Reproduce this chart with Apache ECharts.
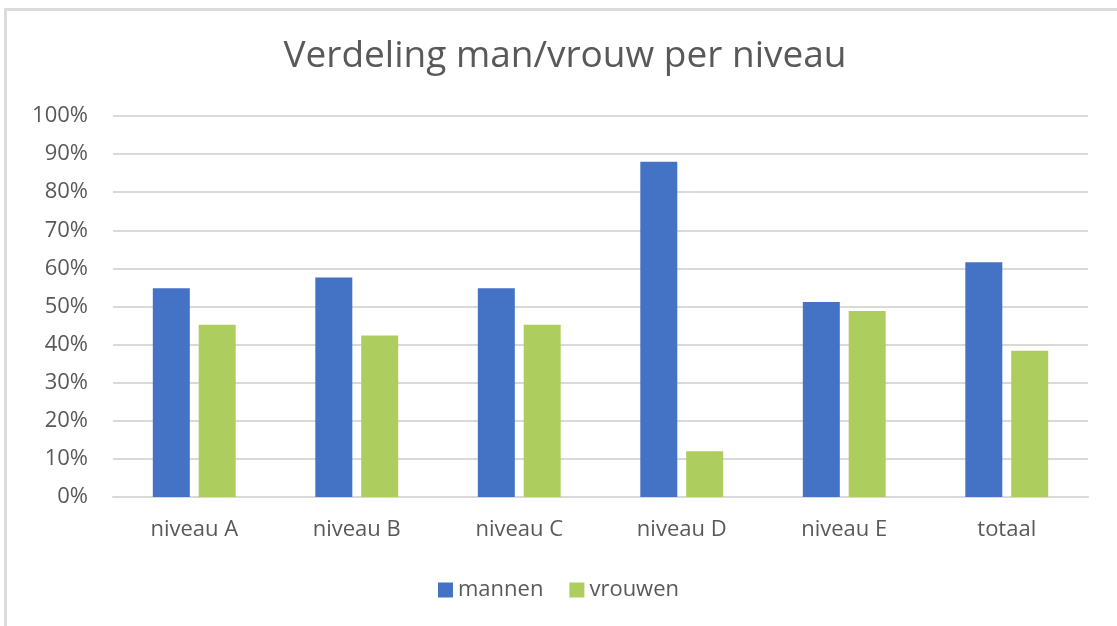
<!DOCTYPE html>
<html>
<head>
<meta charset="utf-8">
<script src="https://cdn.jsdelivr.net/npm/echarts@6/dist/echarts.min.js"></script>
<style>
  html, body { margin: 0; padding: 0; background: #fff; overflow: hidden; }
  #frame { position: absolute; left: 4px; top: 8px; width: 1130px; height: 640px; border-left: 3px solid #dcdcdc; border-top: 3px solid #dcdcdc; box-sizing: border-box; }
  #chart { position: absolute; left: 0; top: 0; width: 1117px; height: 626px; }
</style>
</head>
<body>
<div id="frame"></div>
<div id="chart"></div>
<script>
// categorieën en waarden (percentages)
const categories = ['niveau A', 'niveau B', 'niveau C', 'niveau D', 'niveau E', 'totaal'];
const mannen = [54.8, 57.6, 54.8, 88.0, 51.2, 61.6];
const vrouwen = [45.2, 42.4, 45.2, 12.0, 48.8, 38.4];
const seriesNames = ['mannen', 'vrouwen'];

const textColor = '#595959';
const fontFamily = '"Open Sans", "Noto Sans", sans-serif';

const chart = echarts.init(document.getElementById('chart'));

const option = {
  backgroundColor: 'transparent',
  animation: false,
  title: {
    text: 'Verdeling man/vrouw per niveau',
    left: 560,
    top: 33,
    textAlign: 'center',
    textStyle: { color: textColor, fontSize: 37, fontWeight: 'normal', fontFamily: fontFamily }
  },
  legend: {
    data: seriesNames,
    bottom: 20,
    left: 'center',
    itemWidth: 15,
    itemHeight: 15,
    itemGap: 26,
    icon: 'rect',
    textStyle: { color: textColor, fontSize: 22, fontFamily: fontFamily }
  },
  grid: { left: 113, right: 29, top: 116, bottom: 129 },
  xAxis: {
    type: 'category',
    data: categories,
    axisTick: { show: false },
    axisLine: { lineStyle: { color: '#d9d9d9', width: 2 } },
    axisLabel: { color: textColor, fontSize: 22, margin: 22, fontFamily: fontFamily }
  },
  yAxis: {
    type: 'value',
    min: 0,
    max: 100,
    interval: 10,
    axisLine: { show: false },
    axisTick: { show: false },
    splitLine: { lineStyle: { color: '#d9d9d9', width: 2 } },
    axisLabel: { color: textColor, fontSize: 22, margin: 25, fontFamily: fontFamily, formatter: '{value}%' }
  },
  series: [
    {
      name: seriesNames[0],
      type: 'bar',
      data: mannen,
      barWidth: 37,
      barGap: '24%',
      itemStyle: { color: '#4472C4' }
    },
    {
      name: seriesNames[1],
      type: 'bar',
      data: vrouwen,
      barWidth: 37,
      itemStyle: { color: '#ADCD5F' }
    }
  ]
};

chart.setOption(option);
</script>
</body>
</html>
